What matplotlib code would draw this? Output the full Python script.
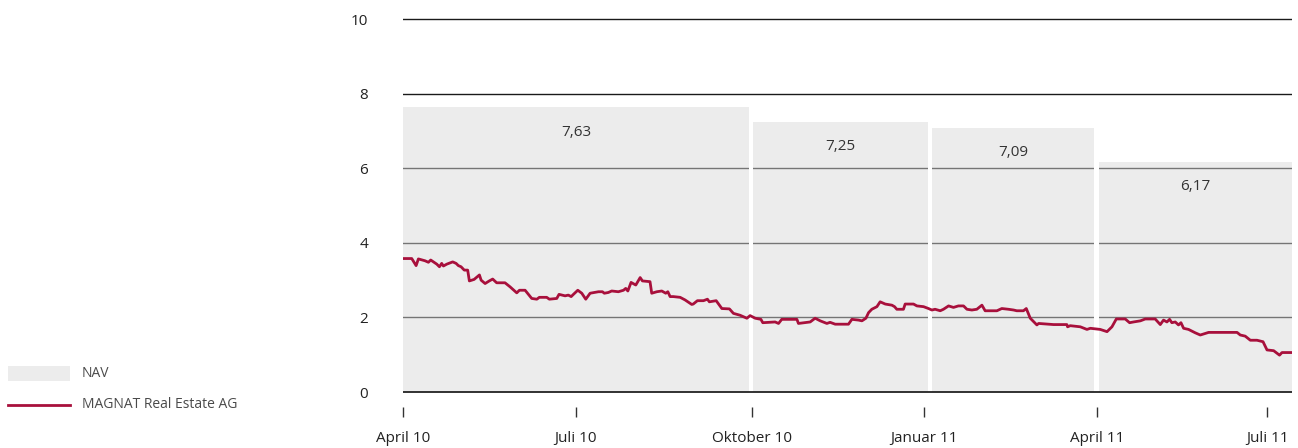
import matplotlib
matplotlib.use('Agg')
from matplotlib import pyplot as plt
from matplotlib.patches import Rectangle
from matplotlib.lines import Line2D

plt.rcParams['font.family'] = ['Open Sans', 'DejaVu Sans']

# days counted from 1 April 2010
tick_days = [0, 91, 184, 275, 366, 456]
tick_labels = ['April 10', 'Juli 10', 'Oktober 10', 'Januar 11', 'April 11', 'Juli 11']

# NAV blocks per quarter
nav_start = [0, 184.7, 279.2, 367.3]
nav_end = [182.6, 277.0, 364.6, 469]
nav_value = [7.63, 7.25, 7.09, 6.17]
nav_text = ['7,63', '7,25', '7,09', '6,17']

# share price MAGNAT Real Estate AG
price_day = [0, 4.6, 6.9, 8.1, 11.6, 13.4, 14.6, 17.8, 19.2, 20.4, 21.3, 23.1, 26.2, 28.0,
             29.2, 30.6, 32.3, 34.1, 35.0, 37.5, 40.3, 41.2, 43.3, 45.5, 47.3, 49.4, 53.8,
             56.5, 60.0, 61.4, 64.4, 67.9, 70.6, 71.9, 75.8, 77.2, 81.1, 82.3, 85.5, 87.2,
             88.7, 89.9, 92.2, 94.3, 96.4, 98.7, 103.1, 105.2, 106.2, 108.3, 110.1, 113.6,
             116.3, 117.5, 118.6, 120.3, 122.8, 125.1, 126.3, 130.3, 131.2, 133.9, 136.5,
             138.6, 139.7, 140.9, 142.6, 146.2, 148.8, 152.3, 153.1, 155.3, 158.5, 160.6,
             161.6, 165.2, 168.2, 172.2, 174.3, 177.8, 181.4, 183.1, 185.8, 188.8, 189.8,
             196.3, 198.1, 199.8, 207.8, 208.6, 214.8, 217.4, 220.1, 223.6, 225.3, 228.0,
             235.0, 236.8, 240.3, 242.1, 244.2, 245.6, 247.3, 250.0, 251.7, 254.4, 257.9,
             259.3, 260.5, 264.0, 264.9, 269.3, 271.1, 274.6, 277.2, 279.0, 280.7, 283.4,
             285.1, 287.8, 290.4, 293.0, 295.7, 297.5, 300.1, 302.7, 305.4, 307.1, 313.3,
             315.9, 319.4, 322.1, 323.8, 327.3, 328.8, 330.9, 334.4, 335.3, 343.2, 350.2,
             350.6, 352.0, 357.3, 360.8, 362.6, 367.8, 371.4, 374.0, 376.3, 381.0, 383.3,
             385.4, 389.0, 391.6, 396.8, 399.5, 401.2, 403.0, 404.4, 405.6, 407.4, 409.1,
             410.4, 411.8, 414.4, 417.9, 420.6, 425.0, 440.0, 441.7, 444.3, 447.0, 450.5,
             453.7, 455.8, 459.3, 462.4, 463.7, 468.4]
price = [3.58, 3.58, 3.39, 3.57, 3.52, 3.48, 3.54, 3.43, 3.36, 3.45, 3.38, 3.43, 3.49, 3.45,
         3.39, 3.36, 3.27, 3.27, 2.98, 3.02, 3.14, 3.00, 2.91, 2.98, 3.03, 2.93, 2.93,
         2.82, 2.66, 2.73, 2.73, 2.51, 2.49, 2.54, 2.54, 2.49, 2.51, 2.62, 2.58, 2.60,
         2.56, 2.62, 2.73, 2.65, 2.49, 2.65, 2.69, 2.69, 2.65, 2.67, 2.71, 2.69,
         2.73, 2.78, 2.71, 2.94, 2.87, 3.07, 2.98, 2.96, 2.65, 2.69, 2.71,
         2.65, 2.69, 2.56, 2.56, 2.54, 2.47, 2.35, 2.36, 2.45, 2.45, 2.49,
         2.42, 2.45, 2.24, 2.23, 2.11, 2.06, 1.98, 2.05, 1.98, 1.95, 1.86,
         1.88, 1.84, 1.95, 1.95, 1.84, 1.88, 1.98, 1.91, 1.84, 1.87, 1.82,
         1.82, 1.95, 1.93, 1.91, 1.98, 2.13, 2.22, 2.29, 2.42, 2.36, 2.33,
         2.29, 2.22, 2.22, 2.36, 2.36, 2.31, 2.29, 2.24, 2.20, 2.22, 2.18,
         2.22, 2.31, 2.27, 2.31, 2.31, 2.22, 2.20, 2.22, 2.33, 2.18, 2.18,
         2.24, 2.22, 2.20, 2.18, 2.18, 2.24, 1.98, 1.80, 1.84, 1.81, 1.81,
         1.75, 1.78, 1.75, 1.68, 1.71, 1.68, 1.62, 1.75, 1.96, 1.96, 1.86,
         1.88, 1.91, 1.96, 1.96, 1.81, 1.93, 1.88, 1.95, 1.86, 1.88, 1.80,
         1.86, 1.71, 1.68, 1.59, 1.53, 1.60, 1.60, 1.53, 1.50, 1.39, 1.39,
         1.35, 1.13, 1.11, 0.99, 1.06, 1.06]

red = '#a8103c'
nav_grey = '#ececec'

fig = plt.figure(figsize=(12.98, 4.48), dpi=100)
ax = fig.add_axes([0.3105, 0.0915, 0.6849, 0.8743])

# grid lines, they show grey through the NAV area
for y in [2, 4, 6, 8, 10]:
    ax.axhline(y, color='#1a1a1a', lw=1.0, zorder=0.5)

# white gaps between quarters
for i in range(len(nav_start) - 1):
    top = max(nav_value[i], nav_value[i + 1])
    ax.fill_between([nav_end[i], nav_start[i + 1]], 0, top, color='white', lw=0, zorder=1)

for s, e, v, t in zip(nav_start, nav_end, nav_value, nav_text):
    ax.fill_between([s, e], 0, v, color=(0.85, 0.85, 0.85), alpha=0.48, lw=0, zorder=2)
    ax.text((s + e) / 2, v - 0.66, t, ha='center', va='center', fontsize=11, color='#333333', zorder=5)

ax.axhline(0, color='#222222', lw=1.3, zorder=3)
ax.plot(price_day, price, color=red, lw=2.0, zorder=4)

ax.set_xlim(0, 469)
ax.set_ylim(-0.4, 10.1)
ax.set_yticks([0, 2, 4, 6, 8, 10])
ax.set_yticklabels(['0', '2', '4', '6', '8', '10'])
ax.set_xticks(tick_days)
ax.set_xticklabels(tick_labels)
ax.tick_params(axis='y', length=0, pad=25, labelsize=11, labelcolor='#222222')
ax.tick_params(axis='x', length=7, width=1.0, color='#333333', pad=10, labelsize=11, labelcolor='#222222')
for sp in ax.spines.values():
    sp.set_visible(False)
ax.patch.set_alpha(0)

# legend on the left
fig.add_artist(Rectangle((8 / 1298, 1 - 381 / 448), 62 / 1298, 15 / 448,
                         transform=fig.transFigure, color=nav_grey, lw=0))
fig.text(82 / 1298, 1 - 373 / 448, 'NAV', fontsize=10, color='#4a4a4a', va='center')
fig.add_artist(Line2D([8 / 1298, 70 / 1298], [1 - 405 / 448, 1 - 405 / 448],
                      transform=fig.transFigure, color=red, lw=2.0))
fig.text(82 / 1298, 1 - 405 / 448, 'MAGNAT Real Estate AG', fontsize=10, color='#4a4a4a', va='center')

plt.savefig('out.png', dpi=100)
